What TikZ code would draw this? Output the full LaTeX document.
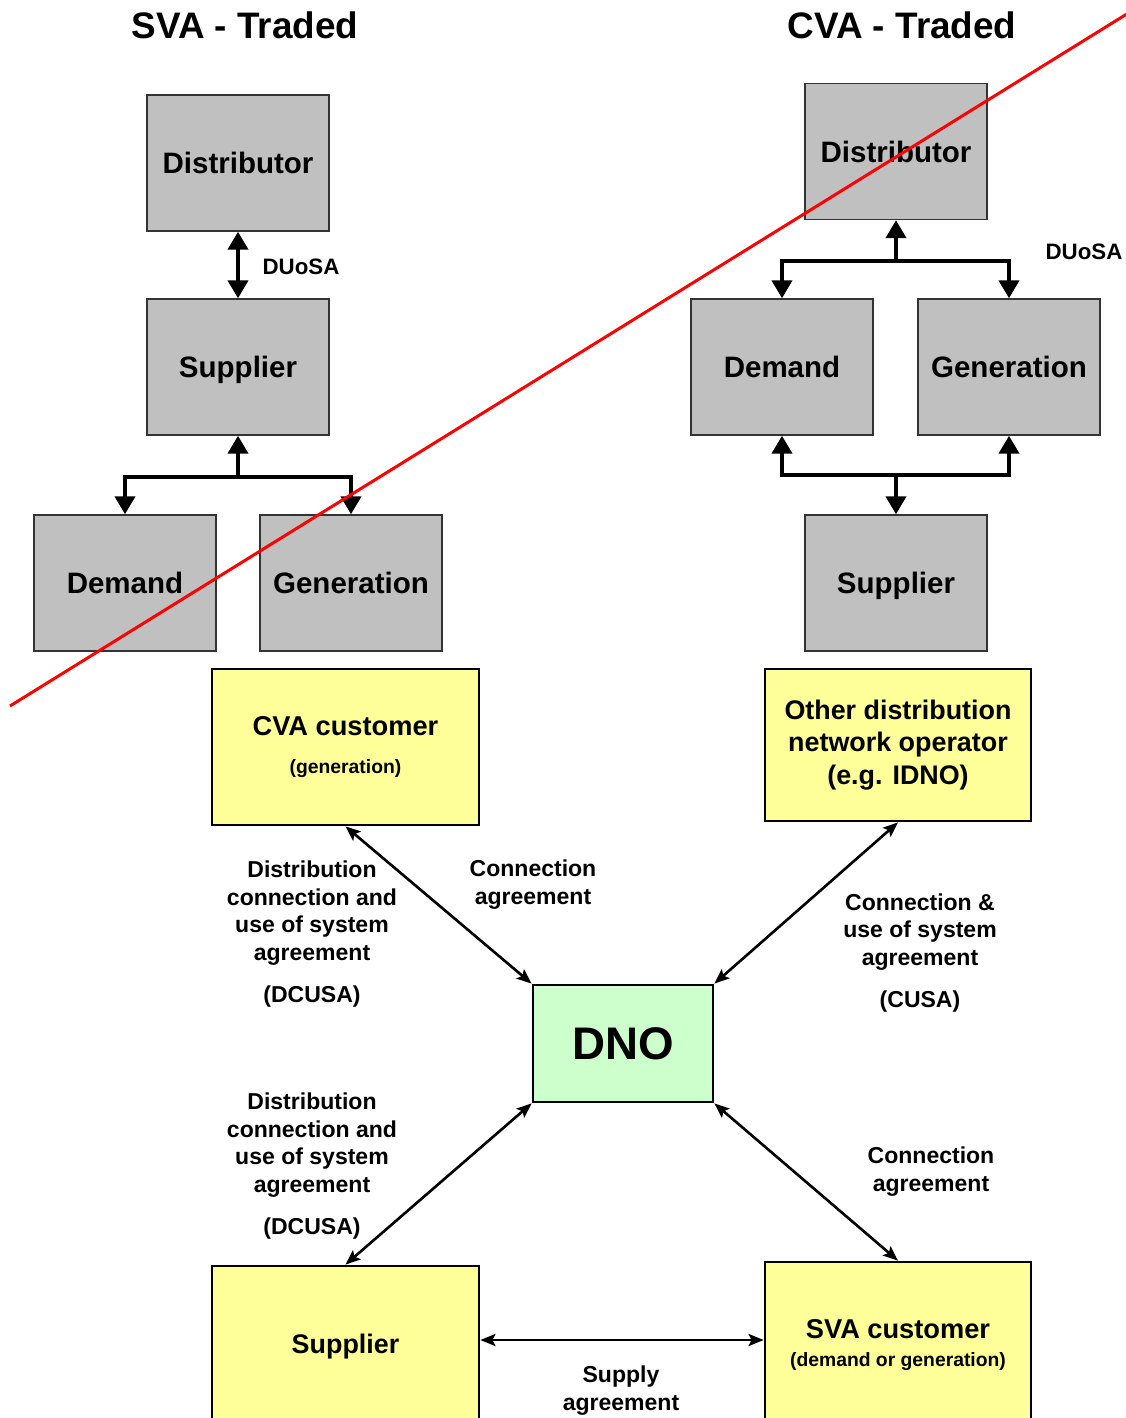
\documentclass[tikz,border=0pt]{standalone}
\usepackage{fontspec}
\setmainfont{Liberation Sans}
\usepackage{xcolor}
\usetikzlibrary{arrows.meta}
\usetikzlibrary{positioning}

\definecolor{boxgray}{RGB}{192,192,192}
\definecolor{custyellow}{RGB}{255,255,153}
\definecolor{dnogreen}{RGB}{204,255,204}

\begin{document}
\begin{tikzpicture}[x=0.02cm, y=-0.02cm]
\tikzset{GrayBox/.style = {draw=black!80, fill=boxgray, line width=0.8pt, minimum width=3.64cm, minimum height=2.72cm, inner sep=0pt, text depth=0pt, font=\fontsize{16.8}{20}\selectfont\bfseries}}
\tikzset{YellowBox/.style = {draw, fill=custyellow, line width=1.6pt, minimum width=5.34cm, align=center, inner sep=0pt}}
\tikzset{FatLink/.style = {line width=2.3pt, >={Triangle[length=0.36cm, width=0.4cm]}}}
\tikzset{ThinLink/.style = {<->, line width=1.5pt, >={Stealth[length=0.3cm, width=0.24cm, inset=0.06cm]}}}
\tikzset{Note/.style = {align=center, inner sep=0pt, font=\fontsize{13.1}{15.9}\selectfont\bfseries}}
\tikzset{Title/.style = {inner sep=0pt, font=\fontsize{21}{24}\selectfont\bfseries}}
\tikzset{Small/.style = {inner sep=0pt, font=\fontsize{12.7}{15}\selectfont\bfseries}}
  \useasboundingbox (0,0) rectangle (1126,1418);

  \node[Title] (SvaTitle) at (245,25) {SVA - Traded};
  \node[Title] (CvaTitle) at (902,25) {CVA - Traded};

  \node[GrayBox] (SvaDist) at (238,163) {Distributor};
  \node[GrayBox] (SvaSup)  at (238,367) {Supplier};
  \node[GrayBox] (SvaDem)  at (125,583) {Demand};
  \node[GrayBox] (SvaGen)  at (351,583) {Generation};

  \node[GrayBox] (CvaDist) at (896,151.5) {Distributor};
  \node[GrayBox] (CvaDem)  at (782,367) {Demand};
  \node[GrayBox] (CvaGen)  at (1009,367) {Generation};
  \node[GrayBox] (CvaSup)  at (896,583) {Supplier};

  \coordinate (SvaJoin) at (238,477);
  \coordinate (CvaJoinTop) at (896,261);
  \coordinate (CvaJoinBot) at (896,475);

  \draw[FatLink, <->] (SvaDist) -- (SvaSup);
  \draw[FatLink, ->] (SvaJoin) -- (SvaSup.south);
  \draw[FatLink, <->] (SvaDem.north) |- (SvaJoin) -| (SvaGen.north);
  \draw[FatLink, ->] (CvaJoinTop) -- (CvaDist.south);
  \draw[FatLink, <->] (CvaDem.north) |- (CvaJoinTop) -| (CvaGen.north);
  \draw[FatLink, ->] (CvaJoinBot) -- (CvaSup.north);
  \draw[FatLink, <->] (CvaDem.south) |- (CvaJoinBot) -| (CvaGen.south);

  \node[Small] (SvaDuosa) at (301,267) {DUoSA};
  \node[Small] (CvaDuosa) at (1084,252) {DUoSA};

  \node[YellowBox, minimum height=3.12cm, font=\fontsize{15.5}{22}\selectfont\bfseries] (CvaCust) at (345.5,747)
    {CVA customer\\{\fontsize{11}{13}\selectfont (generation)}};
  \node[YellowBox, minimum width=5.32cm, minimum height=3.04cm, font=\fontsize{15.3}{18.4}\selectfont\bfseries] (OtherDno) at (898,745)
    {Other distribution\\network operator\\(e.g. IDNO)};
  \node[draw, fill=dnogreen, line width=1.6pt, minimum width=3.6cm, minimum height=2.34cm, inner sep=0pt, text depth=0pt,
    font=\fontsize{26}{30}\selectfont\bfseries] (Dno) at (623,1043.5) {DNO};
  \node[YellowBox, minimum height=3.12cm, text depth=0pt, font=\fontsize{15.3}{18}\selectfont\bfseries] (SupYellow) at (345.5,1344) {Supplier};
  \node[YellowBox, minimum width=5.32cm, minimum height=3.32cm, font=\fontsize{15.5}{15.9}\selectfont\bfseries] (SvaCust) at (898,1345)
    {SVA customer\\{\fontsize{11}{13}\selectfont (demand or generation)}};

  \draw[ThinLink] (CvaCust.south) -- (Dno.north west);
  \draw[ThinLink] (OtherDno.south) -- (Dno.north east);
  \draw[ThinLink] (Dno.south west) -- (SupYellow.north);
  \draw[ThinLink] (Dno.south east) -- (SvaCust.north);
  \draw[ThinLink] ([yshift=0.08cm]SupYellow.east) -- ([yshift=0.08cm]SupYellow.east -| SvaCust.west);

  \node[Note] (DcusaTop) at (312,934) {Distribution\\connection and\\use of system\\agreement\\[8pt](DCUSA)};
  \node[Note] (ConnTop) at (533,885) {Connection\\agreement};
  \node[Note] (Cusa) at (920,953) {Connection \&\\use of system\\agreement\\[8pt](CUSA)};
  \node[Note] (DcusaLow) at (312,1166) {Distribution\\connection and\\use of system\\agreement\\[8pt](DCUSA)};
  \node[Note] (ConnLow) at (931,1172) {Connection\\agreement};
  \node[Note] (SupplyAgr) at (621,1391) {Supply\\agreement};

  \coordinate (StrikeA) at (10,706);
  \coordinate (StrikeB) at (1130,12);
  \draw[red, line width=1.7pt] (StrikeA) -- (StrikeB);
\end{tikzpicture}
\end{document}
